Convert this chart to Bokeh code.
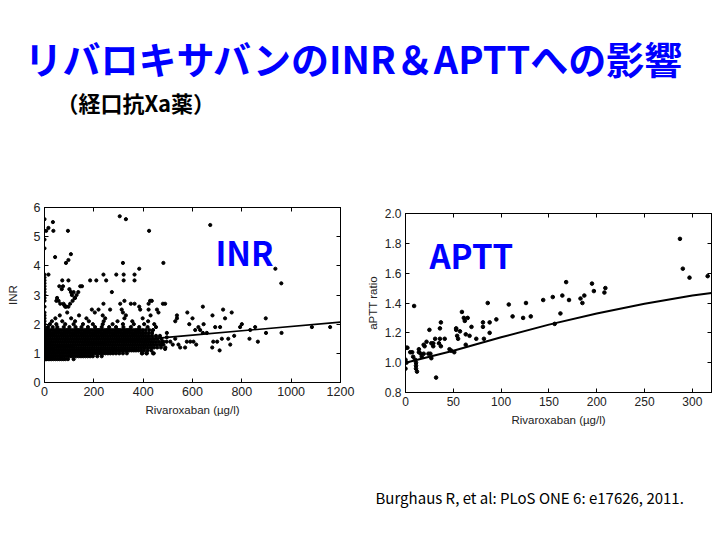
from bokeh.plotting import figure
from bokeh.layouts import column, row
from bokeh.models import Range1d, LinearAxis, Label, NumeralTickFormatter
from bokeh.core.properties import value
from bokeh.embed import file_html
from bokeh.resources import INLINE

TITLE = "リバロキサバンのINR＆APTTへの影響"
SUBTITLE = "（経口抗Xa薬）"
CITATION = "Burghaus R, et al: PLoS ONE 6: e17626, 2011."
INR_TAG = "INR"
APTT_TAG = "APTT"
X_LABEL = "Rivaroxaban (µg/l)"
INR_Y_LABEL = "INR"
APTT_Y_LABEL = "aPTT ratio"

inr_x_ticks = [0, 200, 400, 600, 800, 1000, 1200]
inr_y_ticks = [0, 1, 2, 3, 4, 5, 6]
aptt_x_ticks = [0, 50, 100, 150, 200, 250, 300]
aptt_y_ticks = [0.8, 1.0, 1.2, 1.4, 1.6, 1.8, 2.0]

# INR: dense rows of measurements (INR reported at 0.1 resolution)
inr_row_levels = [0.8, 0.9, 1.0, 1.1, 1.2, 1.3, 1.4, 1.5, 1.6, 1.7, 1.8,
                  1.9, 2.0, 2.1, 2.2, 2.3, 2.4]
inr_row_08 = [0, 4, 9, 15, 22, 29, 36, 44, 52, 60, 68, 76, 84, 95, 118]
inr_row_09 = [0, 5, 11, 18, 26, 34, 42, 50, 58, 67, 76, 85, 94, 103, 112, 121,
              130, 139, 148, 157, 166, 175, 185, 196, 214, 232]
inr_row_10 = [0, 3, 10, 17, 25, 33, 41, 49, 58, 67, 76, 85, 94, 103, 112, 121,
              130, 139, 148, 157, 166, 175, 184, 193, 202, 211, 220, 229, 238,
              247, 257, 267, 278, 290, 303, 318, 334, 396, 413, 440]
inr_row_11 = [0, 6, 13, 21, 29, 38, 47, 56, 65, 74, 83, 92, 101, 110, 119, 128,
              137, 146, 155, 164, 173, 182, 191, 200, 209, 218, 227, 236, 245,
              254, 263, 272, 281, 290, 299, 308, 317, 326, 335, 344, 353, 362,
              371, 381, 392, 404, 418, 433]
inr_row_12 = [0, 4, 11, 19, 27, 36, 45, 54, 63, 72, 81, 90, 99, 108, 117, 126,
              135, 144, 153, 162, 171, 180, 189, 198, 207, 216, 225, 234, 243,
              252, 261, 270, 279, 288, 297, 306, 315, 324, 333, 342, 351, 360,
              369, 378, 387, 396, 405, 414, 423, 433, 444, 457, 472, 490]
inr_row_13 = [0, 7, 14, 22, 30, 39, 48, 57, 66, 75, 84, 93, 102, 111, 120, 129,
              138, 147, 156, 165, 174, 183, 192, 201, 210, 219, 228, 237, 246,
              255, 264, 273, 282, 291, 300, 309, 318, 327, 336, 345, 354, 363,
              372, 381, 390, 399, 408, 417, 426, 435, 445, 456, 468, 482]
inr_row_14 = [0, 3, 9, 17, 25, 34, 43, 52, 61, 70, 79, 88, 97, 106, 115, 124,
              133, 142, 151, 160, 169, 178, 187, 196, 205, 214, 223, 232, 241,
              250, 259, 268, 277, 286, 295, 304, 313, 322, 331, 340, 349, 358,
              367, 376, 385, 394, 403, 412, 421, 430, 440, 451, 463, 476, 495]
inr_row_15 = [0, 5, 12, 20, 28, 37, 46, 55, 64, 73, 82, 91, 100, 109, 118, 127,
              136, 145, 154, 163, 172, 181, 190, 199, 208, 217, 226, 235, 244,
              253, 262, 271, 280, 289, 298, 307, 316, 325, 334, 343, 352, 361,
              370, 379, 388, 397, 406, 415, 424, 434, 445, 458, 474]
inr_row_16 = [0, 4, 10, 18, 26, 35, 44, 53, 62, 71, 80, 89, 98, 107, 116, 125,
              134, 143, 152, 161, 170, 179, 188, 197, 206, 215, 224, 233, 242,
              251, 260, 269, 278, 287, 296, 305, 314, 323, 332, 341, 350, 359,
              368, 377, 386, 395, 404, 414, 425, 437, 452, 468]
inr_row_17 = [0, 6, 13, 21, 29, 38, 47, 56, 65, 74, 83, 92, 101, 110, 119, 128,
              137, 146, 155, 164, 173, 182, 191, 200, 209, 218, 227, 236, 245,
              254, 263, 272, 281, 290, 299, 308, 317, 326, 335, 344, 353, 362,
              371, 380, 389, 399, 410, 422, 436]
inr_row_18 = [0, 4, 11, 19, 28, 37, 46, 55, 64, 73, 82, 91, 100, 109, 118, 127,
              136, 145, 154, 163, 172, 181, 190, 199, 208, 217, 226, 235, 244,
              253, 262, 271, 280, 289, 298, 307, 316, 325, 334, 343, 352, 361,
              370, 379, 388, 398, 410, 425, 440]
inr_row_19 = [0, 14, 33, 52, 78, 101, 126, 150, 176, 205, 232, 262, 290, 320,
              350, 384, 418, 452]
inr_row_20 = [0, 22, 48, 84, 118, 156, 196, 236, 276, 318, 362, 404, 445]
inr_row_21 = [0, 30, 72, 124, 180, 240, 296, 356, 420]
inr_row_22 = [0, 44, 108, 170, 246, 324, 398]
inr_row_23 = [0, 62, 140, 236, 330, 430]
inr_row_24 = [0, 92, 204, 318, 462]
inr_rows = [inr_row_08, inr_row_09, inr_row_10, inr_row_11, inr_row_12,
            inr_row_13, inr_row_14, inr_row_15, inr_row_16, inr_row_17,
            inr_row_18, inr_row_19, inr_row_20, inr_row_21, inr_row_22,
            inr_row_23, inr_row_24]

# INR: scattered individual measurements
inr_sparse_x = [0, 0, 0, 7, 16, 34, 36, 95, 43, 87, 97, 107,
                305, 330, 424, 672, 318, 482, 384, 936, 960,
                0, 0, 0, 0, 0, 0, 0, 0, 0, 0, 0,
                16, 72, 97, 60, 75, 101, 107, 145, 152, 137, 122, 114, 97, 88,
                80, 57, 51, 48, 64, 77, 70, 130, 111, 118, 124, 104, 84,
                185, 210, 239, 250, 291, 321, 321, 365, 365, 273, 239, 307,
                324, 365, 384, 428, 435, 489, 350, 422, 480,
                192, 219, 266, 313, 388, 422, 456,
                642, 579, 537, 537, 530, 681, 724, 759, 600, 732, 897, 645, 587,
                800, 793, 834, 854, 898, 961, 1084, 1158, 769, 831, 865, 753,
                710, 684, 700, 712, 692, 745, 658, 631, 642, 624, 611, 604, 615,
                591, 577, 570, 550, 543, 530, 510, 520, 496, 496, 482, 476, 489,
                680, 719, 415, 395, 443]
inr_sparse_y = [5.6, 4.9, 4.6, 5.2, 5.3, 5.5, 5.2, 5.2, 4.3, 4.1, 4.2, 4.4,
                5.7, 5.6, 5.2, 5.4, 4.1, 4.1, 3.9, 3.9, 3.4,
                3.7, 3.6, 3.5, 3.4, 3.3, 3.2, 3.1, 3.0, 2.9, 2.8, 2.6,
                3.7, 3.5, 3.5, 3.3, 3.3, 3.2, 3.1, 3.3, 3.3, 3.1, 2.9, 2.8, 2.6,
                2.6, 2.65, 2.8, 2.9, 2.8, 2.7, 2.7, 3.2, 3.0, 3.0, 3.1, 2.9, 2.7,
                2.6, 3.5, 3.5, 3.7, 3.5, 3.7, 3.7, 3.5, 3.7, 3.5, 3.1, 2.7, 2.7,
                2.8, 2.7, 2.6, 2.8, 2.8, 2.7, 2.7, 2.7, 2.7,
                2.5, 2.5, 2.5, 2.5, 2.5, 2.5, 2.5,
                2.6, 2.4, 2.3, 2.2, 2.1, 2.3, 2.5, 2.4, 2.2, 2.2, 2.2, 2.0, 2.0,
                2.0, 1.9, 1.8, 1.9, 1.7, 1.7, 1.9, 1.9, 1.6, 1.5, 1.4, 1.3,
                1.1, 1.4, 1.4, 1.9, 1.9, 1.5, 1.7, 1.8, 1.7, 1.9, 1.8, 1.4, 1.3,
                1.4, 1.4, 1.2, 1.2, 1.3, 1.5, 1.4, 1.3, 1.55, 1.7, 1.4, 1.3, 1.15,
                1.2, 1.5, 1.0, 1.0, 1.0]

inr_fit_x = [0, 600, 1200]
inr_fit_y = [1.18, 1.625, 2.07]

# aPTT ratio
aptt_x = [1, 2, 0, 1, 0, 9, 5, 7, 8, 10, 11, 11, 11, 12, 14, 14, 16, 17, 19, 19,
          20, 22, 24, 25, 26, 27, 27, 29, 29, 31, 32, 35, 36, 36, 37, 37, 41,
          46, 48, 51, 53, 53, 54, 55, 57, 59, 61, 62, 63, 63, 65, 67, 69, 74,
          81, 81, 82, 86, 88, 88, 95, 108, 112, 123, 126, 131, 144, 154, 156,
          162, 164, 168, 171, 183, 185, 187, 195, 197, 208, 209, 287, 290, 297,
          316]
aptt_y = [1.10, 1.10, 1.02, 1.00, 0.96, 1.38, 1.07, 1.07, 1.04, 1.02, 1.00,
          0.98, 0.96, 0.94, 1.07, 1.09, 1.06, 1.04, 1.06, 1.12, 1.11, 1.14,
          1.06, 1.22, 1.06, 1.03, 1.13, 1.13, 1.11, 1.16, 0.90, 1.13, 1.16,
          1.23, 1.27, 1.11, 1.16, 1.09, 1.08, 1.07, 1.22, 1.23, 1.18, 1.16,
          1.21, 1.34, 1.30, 1.28, 1.19, 1.12, 1.30, 1.18, 1.24, 1.16, 1.27,
          1.24, 1.16, 1.40, 1.27, 1.20, 1.29, 1.39, 1.31, 1.30, 1.40, 1.31,
          1.42, 1.44, 1.26, 1.33, 1.45, 1.54, 1.42, 1.43, 1.40, 1.45, 1.53,
          1.48, 1.47, 1.50, 1.83, 1.63, 1.57, 1.58]
aptt_fit_x = [0, 25, 50, 100, 150, 200, 250, 300, 320]
aptt_fit_y = [1.0, 1.04, 1.08, 1.17, 1.255, 1.33, 1.395, 1.45, 1.467]

BLUE = "#0000FF"
TICK_FONT = "Liberation Sans"
JP_FONT = "Noto Sans CJK JP"

# build INR point arrays
inr_all_x = []
inr_all_y = []
for lvl, xs in zip(inr_row_levels, inr_rows):
    inr_all_x.extend(xs)
    inr_all_y.extend([lvl] * len(xs))
inr_all_x.extend(inr_sparse_x)
inr_all_y.extend(inr_sparse_y)


def style_axes(p, xt, yt, tick_size, yfmt=None):
    for ax in p.xaxis + p.yaxis:
        ax.major_tick_in = 4
        ax.major_tick_out = 0
        ax.minor_tick_line_color = None
        ax.axis_line_color = "black"
        ax.major_tick_line_color = "black"
        ax.major_label_text_font = TICK_FONT
        ax.major_label_text_font_size = tick_size
        ax.major_label_text_color = "#222222"
        ax.axis_label_text_font = TICK_FONT
        ax.axis_label_text_font_size = "11.5px"
        ax.axis_label_text_font_style = "normal"
        ax.axis_label_text_color = "#222222"
        ax.major_label_standoff = 4
    p.xaxis.ticker = xt
    p.yaxis.ticker = yt
    if yfmt:
        p.yaxis.formatter = NumeralTickFormatter(format=yfmt)
    top = LinearAxis(ticker=xt, major_tick_in=4, major_tick_out=0,
                     minor_tick_line_color=None, major_label_text_font_size="0px",
                     major_label_text_color=None, major_label_standoff=0)
    right = LinearAxis(ticker=yt, major_tick_in=4, major_tick_out=0,
                       minor_tick_line_color=None, major_label_text_font_size="0px",
                       major_label_text_color=None, major_label_standoff=0)
    p.add_layout(top, "above")
    p.add_layout(right, "right")
    p.xgrid.visible = False
    p.ygrid.visible = False
    p.outline_line_color = "black"


# header
head = figure(width=720, height=184, x_range=Range1d(0, 720), y_range=Range1d(184, 0),
              toolbar_location=None, output_backend="svg", x_axis_type=None,
              y_axis_type=None, min_border=0, title=None)
head.outline_line_color = None
head.grid.visible = False
head.text(x=[24], y=[57], text=[TITLE], text_font=value(JP_FONT), text_font_style="bold",
          text_font_size="38px", text_color=BLUE, text_baseline="middle")
head.text(x=[56], y=[101], text=[SUBTITLE], text_font=value(JP_FONT), text_font_style="bold",
          text_font_size="22px", text_color="black", text_baseline="middle")

# INR plot
p1 = figure(width=360, height=246, x_range=Range1d(0, 1200), y_range=Range1d(0, 6),
            toolbar_location=None, output_backend="svg", title=None,
            min_border_left=44, min_border_right=20, min_border_top=23, min_border_bottom=48)
p1.scatter(inr_all_x, inr_all_y, marker="circle", size=3.2, color="black")
p1.line(inr_fit_x, inr_fit_y, line_color="black", line_width=1.6)
p1.xaxis.axis_label = X_LABEL
p1.yaxis.axis_label = INR_Y_LABEL
style_axes(p1, inr_x_ticks, inr_y_ticks, "12.5px")
p1.yaxis[0].axis_label_standoff = 12
p1.xaxis[0].axis_label_standoff = 3
p1.add_layout(Label(x=693, y=4.47, text=INR_TAG, text_font=JP_FONT, text_font_style="bold",
                    text_font_size="33px", text_color=BLUE, text_baseline="middle"))

# APTT plot (shifted down 6px from the INR plot by an outer margin)
p2 = figure(width=360, height=250, x_range=Range1d(0, 320), y_range=Range1d(0.8, 2.0),
            toolbar_location=None, output_backend="svg", title=None,
            min_border_left=45, min_border_right=9, min_border_top=23, min_border_bottom=47)
p2.margin = (6, 0, 0, 0)
p2.scatter(aptt_x, aptt_y, marker="circle", size=3.6, color="black")
p2.line(aptt_fit_x, aptt_fit_y, line_color="black", line_width=2)
p2.xaxis.axis_label = X_LABEL
p2.yaxis.axis_label = APTT_Y_LABEL
style_axes(p2, aptt_x_ticks, aptt_y_ticks, "12px", "0.0")
p2.yaxis[0].axis_label_standoff = 3
p2.xaxis[0].axis_label_standoff = 3
p2.add_layout(Label(x=25, y=1.722, text=APTT_TAG, text_font=JP_FONT, text_font_style="bold",
                    text_font_size="33px", text_color=BLUE, text_baseline="middle"))

# footer
foot = figure(width=720, height=100, x_range=Range1d(0, 720), y_range=Range1d(100, 0),
              toolbar_location=None, output_backend="svg", x_axis_type=None,
              y_axis_type=None, min_border=0, title=None)
foot.outline_line_color = None
foot.grid.visible = False
foot.text(x=[375], y=[57], text=[CITATION], text_font=value(JP_FONT),
          text_font_size="15px", text_color="black", text_baseline="middle")

layout = column(head, row(p1, p2), foot)
open("out.html", "w").write(file_html(layout, INLINE))
